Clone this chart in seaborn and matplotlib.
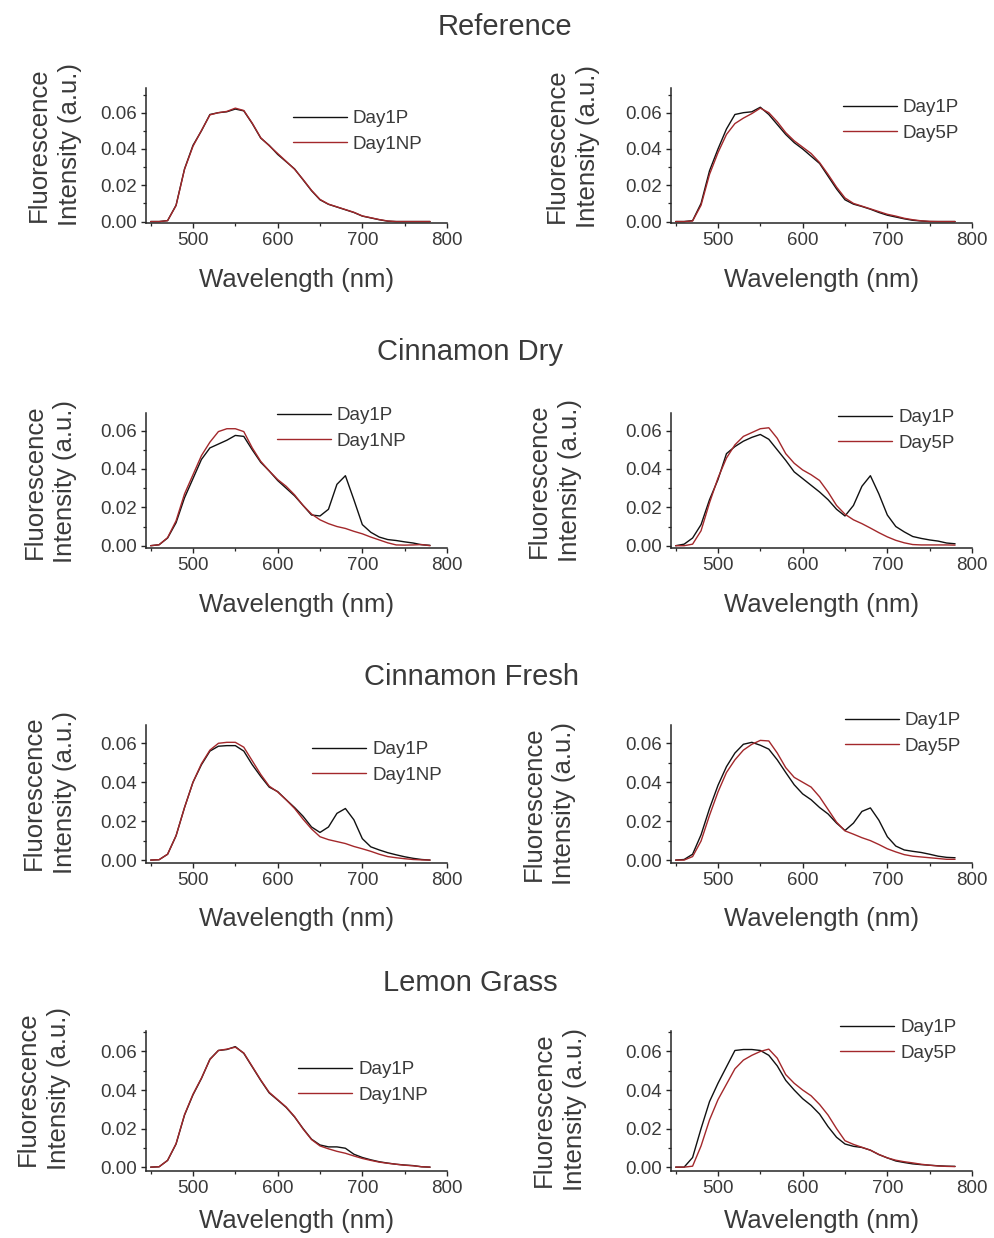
import numpy as np
import pandas as pd
import matplotlib
matplotlib.use("Agg")
import matplotlib.pyplot as plt
from matplotlib.ticker import MultipleLocator, FormatStrFormatter, FixedLocator
import seaborn as sns

# ---------------------------------------------------------------------------
# Emission spectra (wavelength grid in nm, intensity in a.u.)
# ---------------------------------------------------------------------------
WAVELENGTH = list(range(450, 790, 10))

# Reference
REF_DAY1P = [0, 0, 0.0005, 0.009, 0.029, 0.042, 0.050, 0.059, 0.060, 0.0605,
             0.062, 0.061, 0.054, 0.046, 0.042, 0.037, 0.033, 0.029, 0.023, 0.017,
             0.012, 0.0095, 0.008, 0.0065, 0.005, 0.003, 0.002, 0.001, 0.0002, 0,
             0, 0, 0, 0]
REF_DAY1NP = [0, 0, 0.0005, 0.0088, 0.0288, 0.0415, 0.0502, 0.0588, 0.060, 0.0607,
              0.0625, 0.0612, 0.0542, 0.0462, 0.0418, 0.0375, 0.0332, 0.0288, 0.0232, 0.0172,
              0.0122, 0.0096, 0.0081, 0.0066, 0.0051, 0.0031, 0.0021, 0.0011, 0.0003, 0,
              0, 0, 0, 0]
REF_B_DAY1P = [0, 0, 0.0005, 0.010, 0.028, 0.040, 0.051, 0.059, 0.060, 0.0605,
               0.063, 0.059, 0.0535, 0.048, 0.0435, 0.040, 0.036, 0.032, 0.025, 0.018,
               0.012, 0.0096, 0.0083, 0.0068, 0.005, 0.0035, 0.0025, 0.0015, 0.0007, 0.0003,
               0, 0, 0, 0]
REF_B_DAY5P = [0, 0, 0.0003, 0.009, 0.026, 0.038, 0.048, 0.054, 0.057, 0.0595,
               0.0625, 0.060, 0.055, 0.049, 0.0445, 0.041, 0.0375, 0.0325, 0.026, 0.019,
               0.013, 0.010, 0.0085, 0.007, 0.0055, 0.004, 0.003, 0.0018, 0.001, 0.0004,
               0.0001, 0, 0, 0]

# Cinnamon Dry
CD_DAY1P = [0, 0.0005, 0.004, 0.012, 0.025, 0.035, 0.045, 0.051, 0.053, 0.055,
            0.0575, 0.057, 0.050, 0.0435, 0.039, 0.034, 0.030, 0.026, 0.021, 0.016,
            0.0155, 0.019, 0.032, 0.0365, 0.024, 0.011, 0.007, 0.0045, 0.0032, 0.0027,
            0.002, 0.0014, 0.0005, 0.0002]
CD_DAY1NP = [0, 0.0005, 0.0042, 0.013, 0.027, 0.037, 0.047, 0.054, 0.0595, 0.061,
             0.061, 0.0595, 0.051, 0.044, 0.039, 0.0345, 0.031, 0.0265, 0.021, 0.0165,
             0.0135, 0.0115, 0.010, 0.009, 0.0075, 0.0062, 0.0045, 0.003, 0.0015, 0.0004,
             0.0003, 0.0004, 0.0006, 0]
CD_B_DAY1P = [0, 0.0008, 0.004, 0.011, 0.024, 0.0345, 0.048, 0.0517, 0.0545, 0.0565,
              0.058, 0.0555, 0.050, 0.0445, 0.0385, 0.035, 0.0315, 0.028, 0.024, 0.019,
              0.0155, 0.021, 0.031, 0.0365, 0.027, 0.016, 0.010, 0.0072, 0.0048, 0.0038,
              0.003, 0.0024, 0.0014, 0.001]
CD_B_DAY5P = [0, 0, 0.0008, 0.0078, 0.0224, 0.0353, 0.0457, 0.0526, 0.057, 0.059,
              0.061, 0.0615, 0.056, 0.048, 0.043, 0.0395, 0.037, 0.034, 0.028, 0.021,
              0.0164, 0.0135, 0.0115, 0.0092, 0.0068, 0.0046, 0.0028, 0.0015, 0.0006, 0.0004,
              0.0004, 0.0004, 0.0004, 0.0003]

# Cinnamon Fresh
CF_DAY1P = [0, 0.0002, 0.003, 0.0125, 0.027, 0.040, 0.049, 0.056, 0.0585, 0.0588,
            0.0588, 0.056, 0.049, 0.043, 0.0375, 0.0352, 0.031, 0.027, 0.0225, 0.017,
            0.0142, 0.017, 0.024, 0.0265, 0.0207, 0.011, 0.0068, 0.0052, 0.0038, 0.0027,
            0.0017, 0.0009, 0.0003, 0]
CF_DAY1NP = [0, 0.0002, 0.003, 0.0125, 0.027, 0.040, 0.0495, 0.0565, 0.060, 0.0605,
             0.0605, 0.058, 0.051, 0.044, 0.038, 0.035, 0.031, 0.0265, 0.021, 0.016,
             0.012, 0.0105, 0.0095, 0.0085, 0.007, 0.0058, 0.0045, 0.003, 0.0018, 0.0012,
             0.0007, 0.0003, 0.0001, 0]
CF_B_DAY1P = [0, 0.0003, 0.003, 0.013, 0.0265, 0.0384, 0.048, 0.055, 0.0595, 0.0605,
              0.059, 0.057, 0.0515, 0.045, 0.0387, 0.034, 0.031, 0.027, 0.0237, 0.019,
              0.0152, 0.019, 0.025, 0.0268, 0.0205, 0.012, 0.0072, 0.0052, 0.0045, 0.0039,
              0.003, 0.002, 0.0014, 0.0012]
CF_B_DAY5P = [0, 0, 0.0018, 0.0098, 0.023, 0.035, 0.045, 0.0515, 0.0565, 0.0595,
              0.0615, 0.0612, 0.055, 0.0475, 0.0425, 0.040, 0.0375, 0.0325, 0.026, 0.0195,
              0.015, 0.0133, 0.0115, 0.010, 0.008, 0.0058, 0.0042, 0.0028, 0.002, 0.0016,
              0.0012, 0.0008, 0.0004, 0.0004]

# Lemon Grass
LG_DAY1P = [0, 0.0002, 0.0035, 0.012, 0.027, 0.0375, 0.046, 0.056, 0.0605, 0.061,
            0.0625, 0.059, 0.052, 0.045, 0.0385, 0.0348, 0.031, 0.026, 0.020, 0.0145,
            0.0115, 0.0105, 0.0105, 0.0098, 0.0067, 0.005, 0.0038, 0.0028, 0.0021, 0.0015,
            0.0011, 0.0008, 0.0002, 0]
LG_DAY1NP = [0, 0.0002, 0.0035, 0.0122, 0.0272, 0.0378, 0.0462, 0.0558, 0.0605, 0.0612,
             0.0622, 0.0592, 0.0522, 0.0452, 0.0388, 0.035, 0.0312, 0.0262, 0.0198, 0.0143,
             0.011, 0.0095, 0.0082, 0.0072, 0.0058, 0.0045, 0.0035, 0.0026, 0.002, 0.0015,
             0.001, 0.0007, 0.0002, 0]
LG_B_DAY1P = [0, 0, 0.005, 0.020, 0.034, 0.0435, 0.052, 0.0605, 0.061, 0.061,
              0.0605, 0.058, 0.0525, 0.045, 0.040, 0.0355, 0.032, 0.0275, 0.021, 0.0155,
              0.012, 0.0108, 0.0102, 0.0088, 0.0065, 0.0048, 0.0032, 0.0024, 0.0017, 0.0013,
              0.001, 0.0007, 0.0005, 0.0004]
LG_B_DAY5P = [0, 0, 0.0005, 0.011, 0.0245, 0.035, 0.043, 0.051, 0.0555, 0.058,
              0.060, 0.0612, 0.0565, 0.048, 0.0435, 0.040, 0.037, 0.0325, 0.027, 0.020,
              0.0137, 0.0118, 0.0103, 0.0088, 0.0066, 0.0048, 0.0036, 0.0028, 0.0022, 0.0015,
              0.001, 0.0006, 0.0004, 0.0003]

GROUP_TITLES = ["Reference", "Cinnamon Dry", "Cinnamon Fresh", "Lemon Grass"]
SERIES = [
    (("Day1P", REF_DAY1P), ("Day1NP", REF_DAY1NP), ("Day1P", REF_B_DAY1P), ("Day5P", REF_B_DAY5P)),
    (("Day1P", CD_DAY1P), ("Day1NP", CD_DAY1NP), ("Day1P", CD_B_DAY1P), ("Day5P", CD_B_DAY5P)),
    (("Day1P", CF_DAY1P), ("Day1NP", CF_DAY1NP), ("Day1P", CF_B_DAY1P), ("Day5P", CF_B_DAY5P)),
    (("Day1P", LG_DAY1P), ("Day1NP", LG_DAY1NP), ("Day1P", LG_B_DAY1P), ("Day5P", LG_B_DAY5P)),
]
X_MAJOR = [500, 600, 700, 800]
Y_MAJOR = [0.00, 0.02, 0.04, 0.06]

# ---------------------------------------------------------------------------
# Layout (pixels on a 994 x 1238 canvas)
# ---------------------------------------------------------------------------
W, H = 994, 1238
COL_X = [(146, 447), (671, 972)]
ROW_Y = [(88, 223), (413, 548), (725, 863), (1031, 1171)]
ROW_YLIM = [(-0.0008, 0.0736), (-0.0012, 0.0692), (-0.0015, 0.0694), (-0.002, 0.0706)]
XLABEL_GAP = [45, 45, 44, 38]          # gap below the x axis, pixels
TITLE_POS = [(505, 27), (470, 352), (472, 677), (470, 983)]
YLABEL_X = [(-0.213, -0.236), (-0.228, -0.297), (-0.23, -0.315), (-0.25, -0.28)]
YLABEL_Y = [(0.58, 0.57), (0.49, 0.50), (0.51, 0.43), (0.59, 0.44)]
LEGEND_POS = [((293, 121), (843, 110)), ((277, 418), (838, 420)),
              ((312, 752), (845, 723)), ((298, 1072), (840, 1030))]

TEXT = "#3a3a3a"
LINE_COLORS = ["#111111", "#a3282b"]

sns.set_style("ticks")
plt.rcParams["font.family"] = ["Liberation Sans", "DejaVu Sans"]
plt.rcParams["axes.linewidth"] = 1.1

fig = plt.figure(figsize=(W / 100, H / 100), dpi=100)
fig.patch.set_facecolor("white")

for r in range(4):
    tx, ty = TITLE_POS[r]
    fig.text(tx / W, 1 - ty / H, GROUP_TITLES[r], ha="center", va="center",
             fontsize=21, color=TEXT)
    pair = SERIES[r]
    for c in range(2):
        x0, x1 = COL_X[c]
        y0, y1 = ROW_Y[r]
        ax = fig.add_axes([x0 / W, 1 - y1 / H, (x1 - x0) / W, (y1 - y0) / H])
        curves = pair[2 * c: 2 * c + 2]
        for (name, vals), col in zip(curves, LINE_COLORS):
            df = pd.DataFrame({"Wavelength": WAVELENGTH, "Intensity": vals})
            sns.lineplot(data=df, x="Wavelength", y="Intensity", ax=ax,
                         color=col, linewidth=1.0, label=name)

        ax.set_xlim(444.5, 800)
        ax.set_ylim(*ROW_YLIM[r])
        ax.xaxis.set_major_locator(FixedLocator(X_MAJOR))
        ax.xaxis.set_minor_locator(MultipleLocator(50))
        ax.yaxis.set_major_locator(FixedLocator(Y_MAJOR))
        ax.yaxis.set_minor_locator(MultipleLocator(0.01))
        ax.yaxis.set_major_formatter(FormatStrFormatter("%.2f"))
        sns.despine(ax=ax)
        ax.tick_params(which="major", direction="out", length=3.5, width=1,
                       labelsize=13.5, labelcolor=TEXT, pad=3)
        ax.tick_params(which="minor", direction="out", length=2, width=0.9)

        ax.set_xlabel("Wavelength (nm)", fontsize=18.5, color=TEXT)
        ax.xaxis.set_label_coords(0.5, -XLABEL_GAP[r] / (y1 - y0))
        ax.set_ylabel("Fluorescence\nIntensity (a.u.)", fontsize=18.5, color=TEXT,
                      linespacing=1.35)
        ax.yaxis.set_label_coords(YLABEL_X[r][c], YLABEL_Y[r][c])

        lx, ly = LEGEND_POS[r][c]
        leg = ax.legend(loc="upper left",
                        bbox_to_anchor=(lx / W, 1 - (ly - 11) / H),
                        bbox_transform=fig.transFigure,
                        frameon=False, fontsize=13.5, handlelength=2.9,
                        handletextpad=0.3, labelspacing=0.45, borderpad=0,
                        borderaxespad=0)
        for t in leg.get_texts():
            t.set_color(TEXT)

fig.savefig("out.png", dpi=100, facecolor="white")
